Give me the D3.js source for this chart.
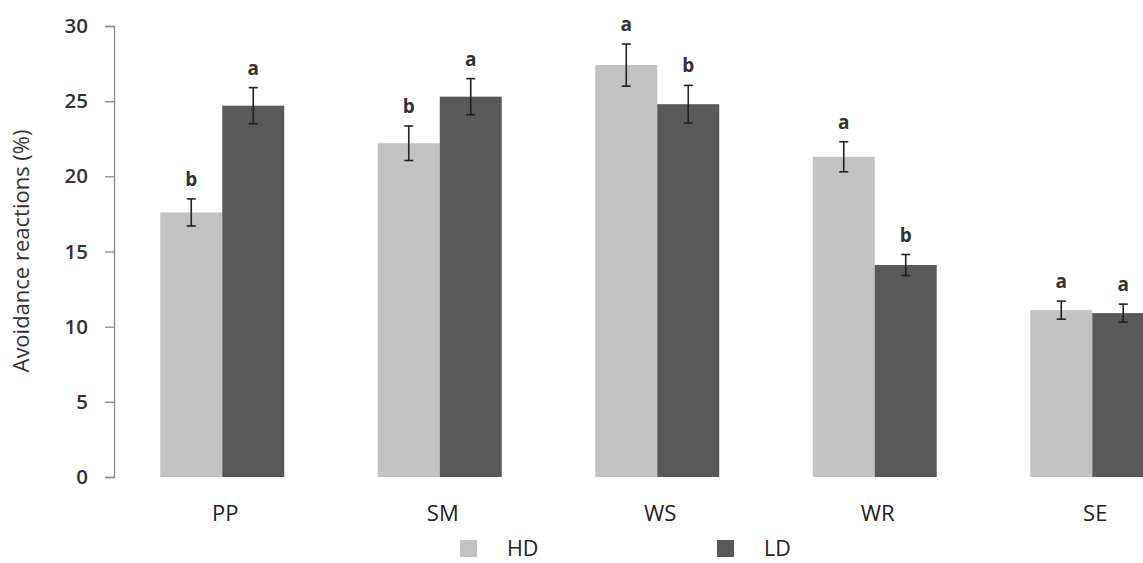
<!DOCTYPE html>
<html>
<head>
<meta charset="utf-8">
<script src="https://cdn.jsdelivr.net/npm/d3@7"></script>
<style>
  body { margin: 0; background: #fff; }
  svg { display: block; }
  svg text { font-family: "Open Sans", "Noto Sans", sans-serif; }
</style>
</head>
<body>
<svg class="chart"></svg>
<script>
// data
var categories = ["PP", "SM", "WS", "WR", "SE"];
var seriesNames = ["HD", "LD"];
var hdValues = [17.6, 22.2, 27.4, 21.3, 11.1];
var ldValues = [24.7, 25.3, 24.8, 14.1, 10.9];
var hdErrors = [0.9, 1.15, 1.4, 1.0, 0.6];
var ldErrors = [1.2, 1.2, 1.25, 0.7, 0.6];
var hdLetters = ["b", "b", "a", "a", "a"];
var ldLetters = ["a", "a", "b", "b", "a"];
var yTicks = [0, 5, 10, 15, 20, 25, 30];

var width = 1143, height = 563;
var colors = {HD: "#c2c2c2", LD: "#595959"};

var svg = d3.select(".chart")
    .attr("width", width)
    .attr("height", height);

var y = d3.scaleLinear().domain([0, 30]).range([477, 26]);

var x = d3.scaleBand()
    .domain(categories)
    .range([113.5, 113.5 + 5 * 217.5])
    .paddingInner(0.43)
    .paddingOuter(0.215);

var x1 = d3.scaleBand().domain(seriesNames).range([0, x.bandwidth()]);

// y axis
var yAxis = svg.append("g")
    .attr("transform", "translate(114,0)")
    .call(d3.axisLeft(y).tickValues(yTicks).tickSize(9).tickPadding(17));
yAxis.attr("font-family", null);
yAxis.select(".domain").attr("stroke", "#888").attr("stroke-width", 1.3);
yAxis.selectAll(".tick line").attr("stroke", "#888").attr("stroke-width", 1.3);
yAxis.selectAll(".tick text")
    .attr("fill", "#333")
    .style("font-size", "20.5px")
    .style("font-weight", "600");

svg.append("text")
    .attr("transform", "translate(29,251) rotate(-90)")
    .attr("text-anchor", "middle")
    .attr("fill", "#333")
    .style("font-size", "22px")
    .text("Avoidance reactions (%)");

// build rows
var rows = [];
categories.forEach(function(c, i) {
    rows.push({cat: c, s: "HD", v: hdValues[i], e: hdErrors[i], l: hdLetters[i]});
    rows.push({cat: c, s: "LD", v: ldValues[i], e: ldErrors[i], l: ldLetters[i]});
});

function cx(d) { return x(d.cat) + x1(d.s) + x1.bandwidth() / 2; }

svg.append("g").selectAll("rect")
    .data(rows)
    .enter().append("rect")
    .attr("x", function(d) { return x(d.cat) + x1(d.s); })
    .attr("y", function(d) { return y(d.v); })
    .attr("width", x1.bandwidth())
    .attr("height", function(d) { return y(0) - y(d.v); })
    .attr("fill", function(d) { return colors[d.s]; });

// error bars
var err = svg.append("g")
    .attr("stroke", "#222")
    .attr("stroke-width", 1.6)
    .selectAll("g")
    .data(rows)
    .enter().append("g");
err.append("line")
    .attr("x1", cx).attr("x2", cx)
    .attr("y1", function(d) { return y(d.v + d.e); })
    .attr("y2", function(d) { return y(d.v - d.e); });
err.append("line")
    .attr("x1", function(d) { return cx(d) - 4.5; })
    .attr("x2", function(d) { return cx(d) + 4.5; })
    .attr("y1", function(d) { return y(d.v + d.e); })
    .attr("y2", function(d) { return y(d.v + d.e); });
err.append("line")
    .attr("x1", function(d) { return cx(d) - 4.5; })
    .attr("x2", function(d) { return cx(d) + 4.5; })
    .attr("y1", function(d) { return y(d.v - d.e); })
    .attr("y2", function(d) { return y(d.v - d.e); });

// significance letters
svg.append("g").selectAll("text")
    .data(rows)
    .enter().append("text")
    .attr("x", cx)
    .attr("y", function(d) { return y(d.v + d.e) - 13; })
    .attr("text-anchor", "middle")
    .attr("fill", "#333")
    .style("font-size", "19px")
    .style("font-weight", "bold")
    .text(function(d) { return d.l; });

// category labels
svg.append("g").selectAll("text")
    .data(categories)
    .enter().append("text")
    .attr("x", function(d) { return x(d) + x.bandwidth() / 2 + 3; })
    .attr("y", 521)
    .attr("text-anchor", "middle")
    .attr("fill", "#222")
    .style("font-size", "22px")
    .text(function(d) { return d; });

// legend
var legendX = [460, 717];
var legend = svg.append("g").selectAll("g")
    .data(seriesNames)
    .enter().append("g")
    .attr("transform", function(d, i) { return "translate(" + legendX[i] + ",540)"; });
legend.append("rect")
    .attr("width", 17).attr("height", 17)
    .attr("fill", function(d) { return colors[d]; });
legend.append("text")
    .attr("x", 47).attr("y", 16)
    .attr("fill", "#222")
    .style("font-size", "21.5px")
    .text(function(d) { return d; });
</script>
</body>
</html>
